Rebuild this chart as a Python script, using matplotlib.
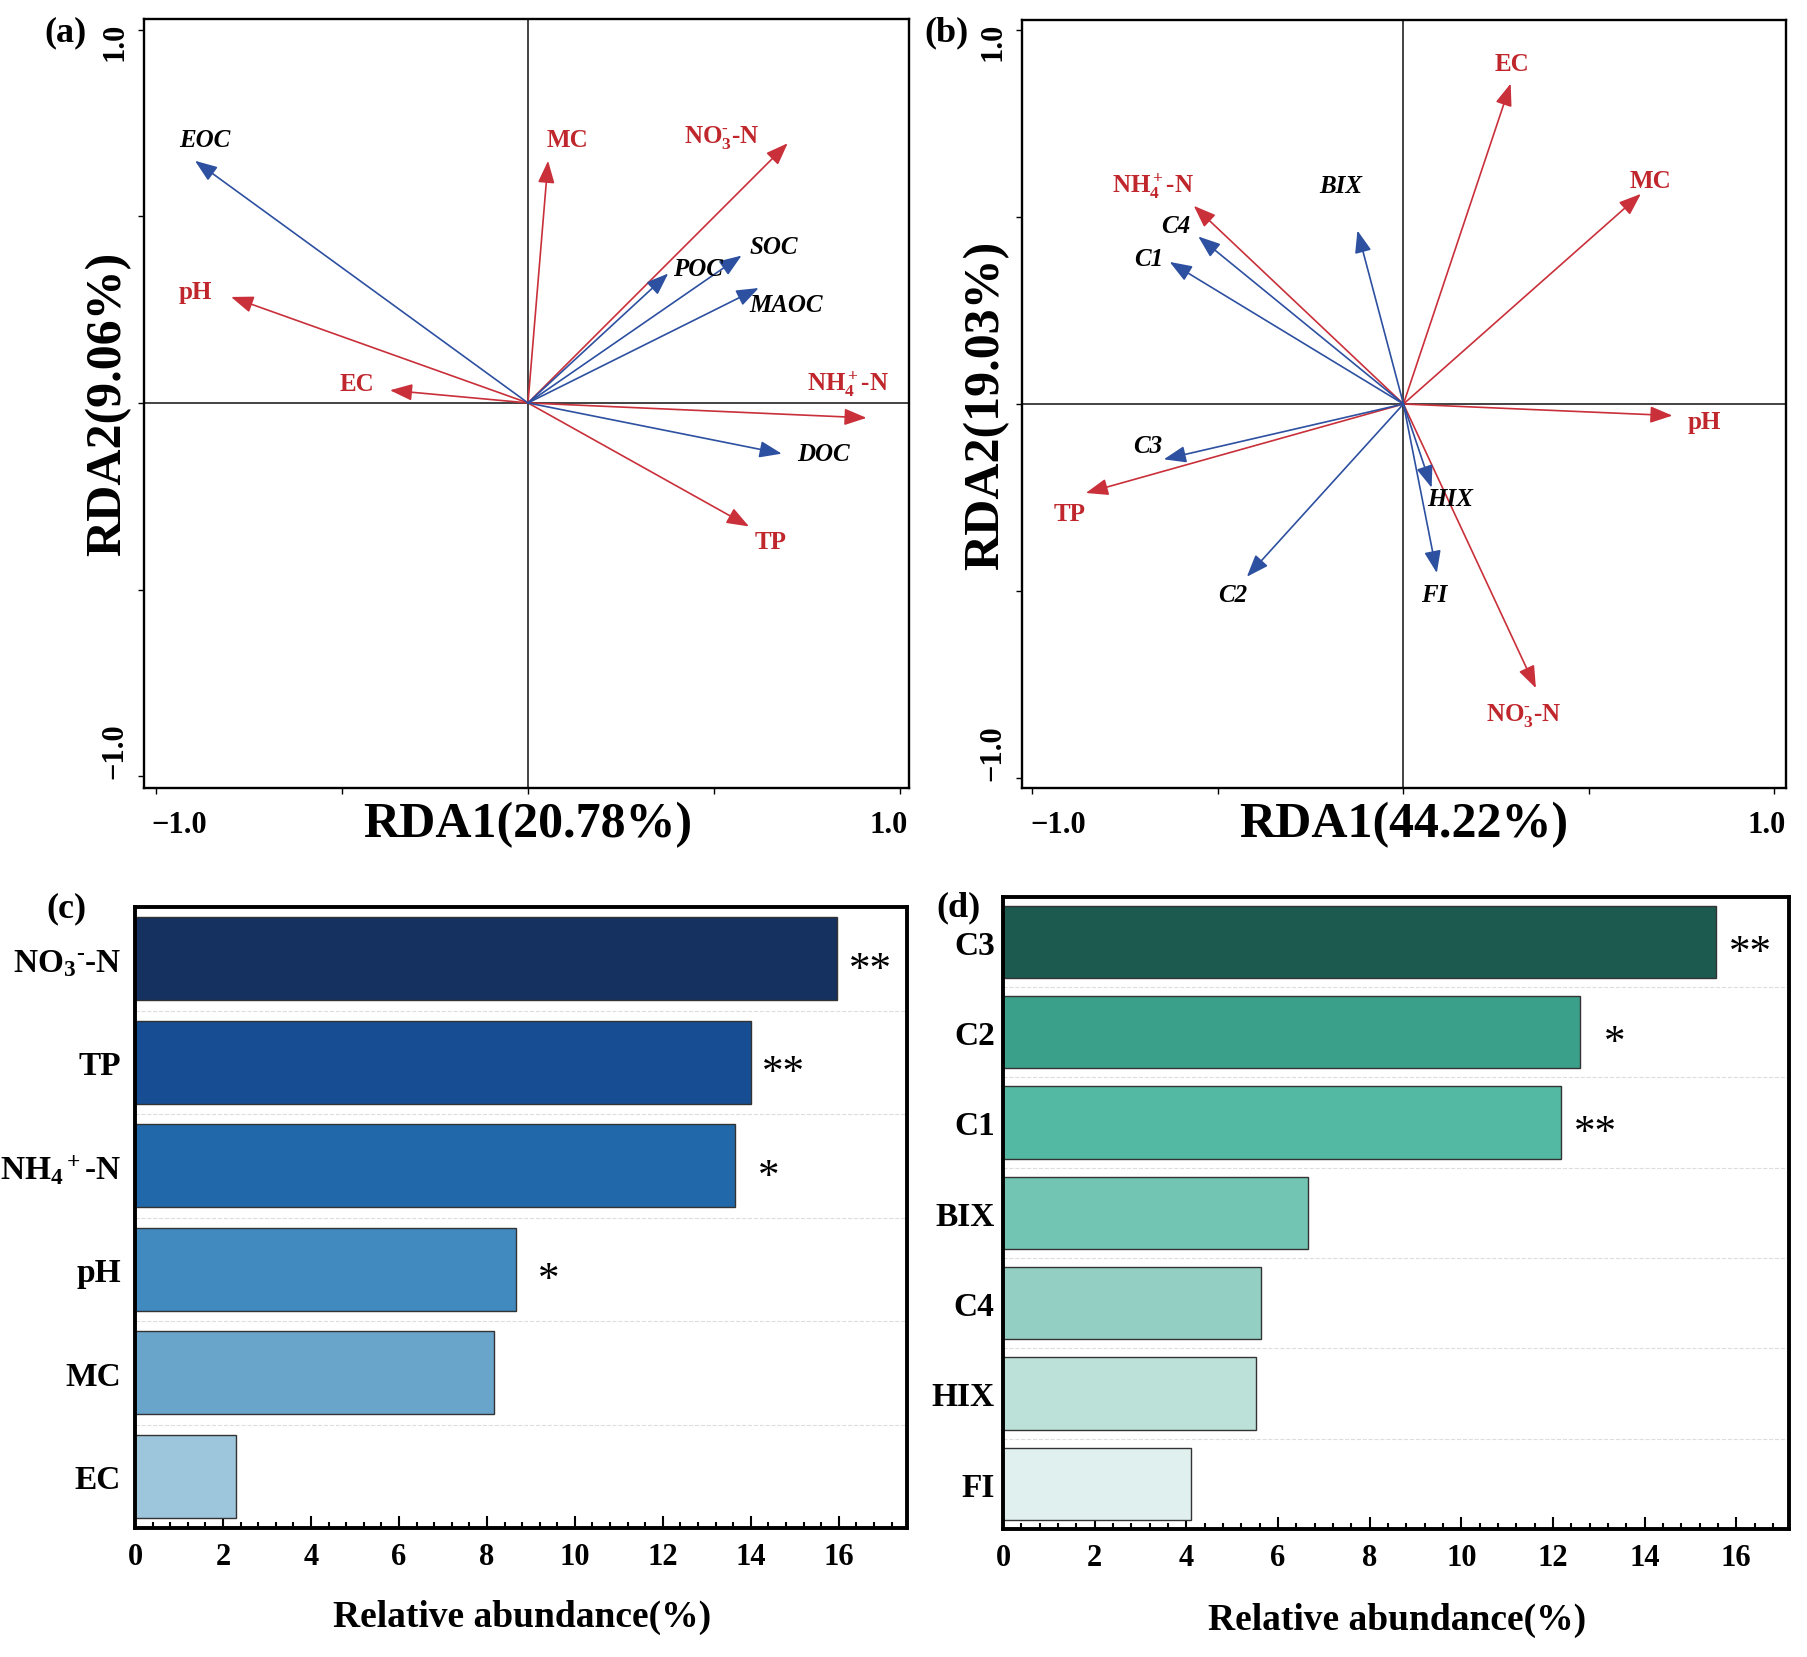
import numpy as np
import matplotlib
matplotlib.use('Agg')
import matplotlib.pyplot as plt
import matplotlib.transforms as mtrans
from matplotlib.ticker import MultipleLocator

plt.rcParams['font.family'] = ['Liberation Serif', 'DejaVu Serif']
plt.rcParams['font.weight'] = 'bold'
plt.rcParams['axes.labelweight'] = 'bold'
plt.rcParams['mathtext.fontset'] = 'custom'
plt.rcParams['mathtext.rm'] = 'Liberation Serif:bold'
plt.rcParams['mathtext.bf'] = 'Liberation Serif:bold'
plt.rcParams['mathtext.it'] = 'Liberation Serif:italic:bold'
plt.rcParams['mathtext.default'] = 'bf'

# ---- data: RDA (a) ----
env_a = ['MC', 'NO$_3^{\u2010}$-N', 'pH', 'EC', 'NH$_4^+$-N', 'TP']
env_a_x = [0.054, 0.698, -0.798, -0.371, 0.910, 0.594]
env_a_y = [0.649, 0.696, 0.284, 0.034, -0.040, -0.331]
sp_a = ['EOC', 'SOC', 'POC', 'MAOC', 'DOC']
sp_a_x = [-0.895, 0.574, 0.377, 0.620, 0.682]
sp_a_y = [0.649, 0.395, 0.347, 0.308, -0.136]

# ---- data: RDA (b) ----
env_b = ['EC', 'MC', 'NH$_4^+$-N', 'pH', 'TP', 'NO$_3^{\u2010}$-N']
env_b_x = [0.289, 0.640, -0.565, 0.725, -0.856, 0.357]
env_b_y = [0.857, 0.562, 0.530, -0.031, -0.238, -0.760]
sp_b = ['BIX', 'C4', 'C1', 'C3', 'HIX', 'C2', 'FI']
sp_b_x = [-0.124, -0.553, -0.630, -0.646, 0.076, -0.422, 0.090]
sp_b_y = [0.464, 0.448, 0.380, -0.148, -0.224, -0.462, -0.452]

# ---- data: bars (c), (d) ----
bar_c_names = ['NO$_3$$^{\u2010}$-N', 'TP', 'NH$_4$$^+$-N', 'pH', 'MC', 'EC']
bar_c_vals = [15.96, 14.00, 13.65, 8.66, 8.16, 2.30]
bar_c_sig = ['**', '**', '*', '*', '', '']
bar_d_names = ['C3', 'C2', 'C1', 'BIX', 'C4', 'HIX', 'FI']
bar_d_vals = [15.56, 12.60, 12.18, 6.65, 5.62, 5.52, 4.11]
bar_d_sig = ['**', '*', '**', '', '', '', '']

# label placement (text centres, data coords)
env_a_lab = [(0.105, 0.706), (0.52, 0.713), (-0.895, 0.30), (-0.46, 0.051), (0.86, 0.054), (0.651, -0.372)]
sp_a_lab = [(-0.868, 0.706), (0.66, 0.42), (0.457, 0.36), (0.693, 0.263), (0.795, -0.136)]
env_b_lab = [(0.293, 0.911), (0.666, 0.597), (-0.674, 0.584), (0.81, -0.047), (-0.899, -0.292), (0.325, -0.831)]
sp_b_lab = [(-0.169, 0.584), (-0.615, 0.477), (-0.686, 0.389), (-0.689, -0.112), (0.127, -0.252), (-0.46, -0.509), (0.084, -0.509)]

blues = ['#143160', '#174e93', '#2068aa', '#408ac0', '#69a5cb', '#9dc5dc']
greens = ['#1c5a50', '#3ba08a', '#53b9a3', '#72c4b3', '#93cfc3', '#bbe1d8', '#dff0ee']
red = '#c9303a'
red_txt = '#c0272d'
blue = '#2d50a0'

W, H = 1808, 1658
fig = plt.figure(figsize=(W / 100, H / 100), dpi=100)


def draw_rda(ax, env, ex, ey, elab, sp, sx, sy, slab, xlab, ylab, xlim, ylim, x1pos):
    ax.axhline(0, color='#222222', lw=1.2, zorder=1)
    ax.axvline(0, color='#222222', lw=1.2, zorder=1)
    style = '-|>,head_length=0.4,head_width=0.15'
    for name, x, y, (lx, ly) in zip(env, ex, ey, elab):
        ax.annotate('', xy=(x, y), xytext=(0, 0),
                    arrowprops=dict(arrowstyle=style, mutation_scale=34, lw=1.2,
                                    color=red, shrinkA=0, shrinkB=0))
        ax.text(lx, ly, name, color=red_txt, fontsize=18, ha='center', va='center')
    for name, x, y, (lx, ly) in zip(sp, sx, sy, slab):
        ax.annotate('', xy=(x, y), xytext=(0, 0),
                    arrowprops=dict(arrowstyle=style, mutation_scale=34, lw=1.2,
                                    color=blue, shrinkA=0, shrinkB=0))
        ax.text(lx, ly, name, color='black', fontsize=18, style='italic',
                ha='center', va='center')
    ax.set_xlim(*xlim)
    ax.set_ylim(*ylim)
    ax.set_xticks([-1, -0.5, 0, 0.5, 1])
    ax.set_yticks([-1, -0.5, 0, 0.5, 1])
    ax.set_xticklabels([])
    ax.set_yticklabels([])
    ax.tick_params(direction='out', length=4, width=1)
    for s in ax.spines.values():
        s.set_linewidth(1.7)
    trx = mtrans.blended_transform_factory(ax.transData, ax.transAxes)
    tr_y = mtrans.blended_transform_factory(ax.transAxes, ax.transData)
    ax.text(x1pos[0], -0.047, '\u22121.0', transform=trx, ha='left', va='center', fontsize=22)
    ax.text(x1pos[1], -0.047, '1.0', transform=trx, ha='right', va='center', fontsize=22)
    ax.text(-0.038, 1.022, '1.0', transform=tr_y, rotation=90, ha='center', va='top', fontsize=22)
    ax.text(-0.038, -1.005, '\u22121.0', transform=tr_y, rotation=90, ha='center', va='bottom', fontsize=22)
    ax.text(0.0, -0.047, xlab, transform=trx, ha='center', va='center', fontsize=36)
    ax.text(-0.047, 0.0, ylab, transform=tr_y, rotation=90, ha='center', va='center', fontsize=36)


def draw_bars(ax, names, vals, sig, colors, xmax, pad):
    y = np.arange(len(names))
    ax.barh(y, vals, height=0.8, color=colors, edgecolor='#333333', linewidth=1.0, zorder=2)
    ax.set_ylim(len(names) - 0.5, -0.5)
    ax.set_xlim(0, xmax)
    ax.set_yticks(y)
    ax.set_yticklabels(names, fontsize=24)
    ax.set_yticks(y[:-1] + 0.5, minor=True)
    ax.grid(which='minor', axis='y', color='#dddddd', ls='--', lw=0.8)
    ax.set_axisbelow(True)
    ax.set_xticks(np.arange(0, 17, 2))
    ax.xaxis.set_minor_locator(MultipleLocator(0.4))
    ax.tick_params(axis='x', which='major', direction='in', length=8.5, width=1.5,
                   labelsize=22, pad=10)
    ax.tick_params(axis='x', which='minor', direction='in', length=4.3, width=1.5)
    ax.tick_params(axis='y', which='major', direction='in', length=8.5, width=2, pad=pad)
    ax.tick_params(axis='y', which='minor', length=0)
    for s in ax.spines.values():
        s.set_linewidth(2.8)
    tr = mtrans.offset_copy(ax.transData, fig=fig, y=-15, units='points')
    for v, yy, s in zip(vals, y, sig):
        ax.text(v + 0.75, yy, s, transform=tr, ha='center', va='baseline',
                fontsize=31, fontweight='normal')
    ax.set_xlabel('Relative abundance(%)', fontsize=27, fontweight='bold')
    ax.xaxis.set_label_coords(0.501, -0.143)
    ax.xaxis.label.set_va('center')


ax_a = fig.add_axes([144 / W, 1 - 789 / H, 765 / W, 769 / H])
ax_b = fig.add_axes([1022 / W, 1 - 789 / H, 764 / W, 768 / H])
ax_c = fig.add_axes([135 / W, 1 - 1529 / H, 772 / W, 621 / H])
ax_d = fig.add_axes([1003 / W, 1 - 1530 / H, 786 / W, 632.5 / H])

draw_rda(ax_a, env_a, env_a_x, env_a_y, env_a_lab, sp_a, sp_a_x, sp_a_y, sp_a_lab,
         'RDA1(20.78%)', 'RDA2(9.06%)', (-1.032, 1.024), (-1.032, 1.029), (-1.013, 1.02))
draw_rda(ax_b, env_b, env_b_x, env_b_y, env_b_lab, sp_b, sp_b_x, sp_b_y, sp_b_lab,
         'RDA1(44.22%)', 'RDA2(19.03%)', (-1.028, 1.031), (-1.027, 1.027), (-1.005, 1.03))
draw_bars(ax_c, bar_c_names, bar_c_vals, bar_c_sig, blues, 17.55, 10)
draw_bars(ax_d, bar_d_names, bar_d_vals, bar_d_sig, greens, 17.15, 6)

fig.text(66 / W, 1 - 33 / H, '(a)', fontsize=26, ha='center', va='center')
fig.text(947 / W, 1 - 33 / H, '(b)', fontsize=26, ha='center', va='center')
fig.text(66 / W, 1 - 909 / H, '(c)', fontsize=26, ha='center', va='center')
fig.text(959 / W, 1 - 908 / H, '(d)', fontsize=26, ha='center', va='center')

fig.savefig('out.png', dpi=100)
